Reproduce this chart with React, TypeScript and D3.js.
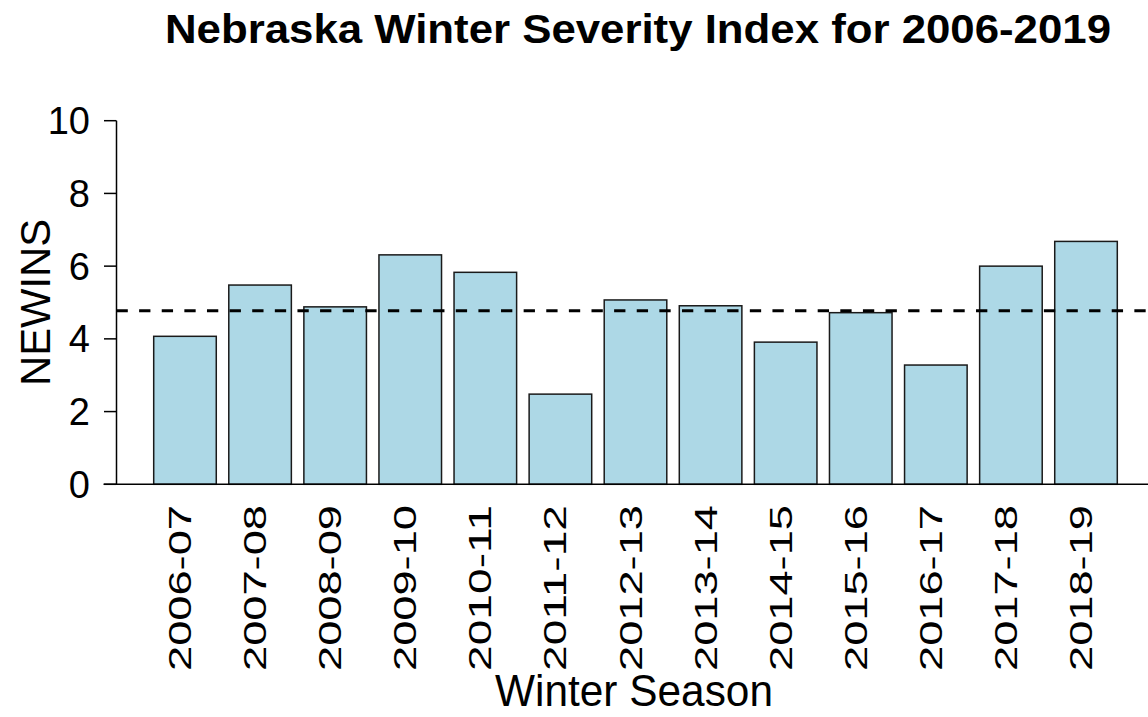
import React from "react";
import * as d3 from "d3";

const seasons = ["2006-07","2007-08","2008-09","2009-10","2010-11","2011-12","2012-13","2013-14","2014-15","2015-16","2016-17","2017-18","2018-19"];
const newins = [4.07, 5.48, 4.88, 6.31, 5.83, 2.48, 5.07, 4.91, 3.91, 4.72, 3.28, 6.0, 6.68];
const referenceLine = 4.77;
const yTicks = [0, 2, 4, 6, 8, 10];

const W = 1148;
const H = 717;
const FONT = "'Liberation Sans', Arial, Helvetica, sans-serif";

export default function App() {
  const x = d3.scaleBand<string>().domain(seasons).range([153.7, 1117.3]).paddingInner(1 / 6).paddingOuter(0);
  const y = d3.scaleLinear().domain([0, 10]).range([484.3, 120.7]);
  const axisX = 116.5;
  const dashLen = (1066.7 - 116.7) / 42 / 2;

  return (
    <svg width={W} height={H} style={{ position: "absolute", left: 0, top: 0, background: "#fff" }} fontFamily={FONT}>
      <rect x={0} y={0} width={W} height={H} fill="#fff" />
      <text x={165} y={43.3} fontSize={40} fontWeight="bold" textLength={946} lengthAdjust="spacingAndGlyphs" fill="#000">
        Nebraska Winter Severity Index for 2006-2019
      </text>

      {/* bars */}
      {seasons.map((s, i) => (
        <rect
          key={s}
          x={x(s)}
          y={y(newins[i])}
          width={x.bandwidth()}
          height={y(0) - y(newins[i])}
          fill="#ADD8E6"
          stroke="#1a1a1a"
          strokeWidth={1.5}
        />
      ))}

      {/* baseline */}
      <line x1={103.5} x2={W} y1={y(0)} y2={y(0)} stroke="#000" strokeWidth={1.5} />

      {/* reference dashed line */}
      <line
        x1={axisX}
        x2={W}
        y1={y(referenceLine)}
        y2={y(referenceLine)}
        stroke="#000"
        strokeWidth={3}
        strokeDasharray={`${dashLen} ${dashLen}`}
      />

      {/* y axis */}
      <line x1={axisX} x2={axisX} y1={y(10)} y2={y(0)} stroke="#000" strokeWidth={1.5} />
      {yTicks.map((t) => (
        <g key={t}>
          <line x1={axisX - 12.5} x2={axisX} y1={y(t)} y2={y(t)} stroke="#000" strokeWidth={1.5} />
          <text x={90} y={y(t) + 13.5} fontSize={38} textAnchor="end" fill="#000">
            {t}
          </text>
        </g>
      ))}
      <text
        transform={`translate(50, ${(y(0) + y(10)) / 2}) rotate(-90)`}
        fontSize={42}
        textAnchor="middle"
        textLength={167}
        lengthAdjust="spacingAndGlyphs"
        fill="#000"
      >
        NEWINS
      </text>

      {/* x labels */}
      {seasons.map((s) => {
        const cx = (x(s) as number) + x.bandwidth() / 2;
        return (
          <text
            key={s}
            transform={`translate(${cx + 6}, 505) rotate(-90)`}
            fontSize={31}
            textAnchor="end"
            textLength={166}
            lengthAdjust="spacingAndGlyphs"
            fill="#000"
          >
            {s}
          </text>
        );
      })}
      <text x={495} y={706} fontSize={44} textLength={278} lengthAdjust="spacingAndGlyphs" fill="#000">
        Winter Season
      </text>
    </svg>
  );
}
